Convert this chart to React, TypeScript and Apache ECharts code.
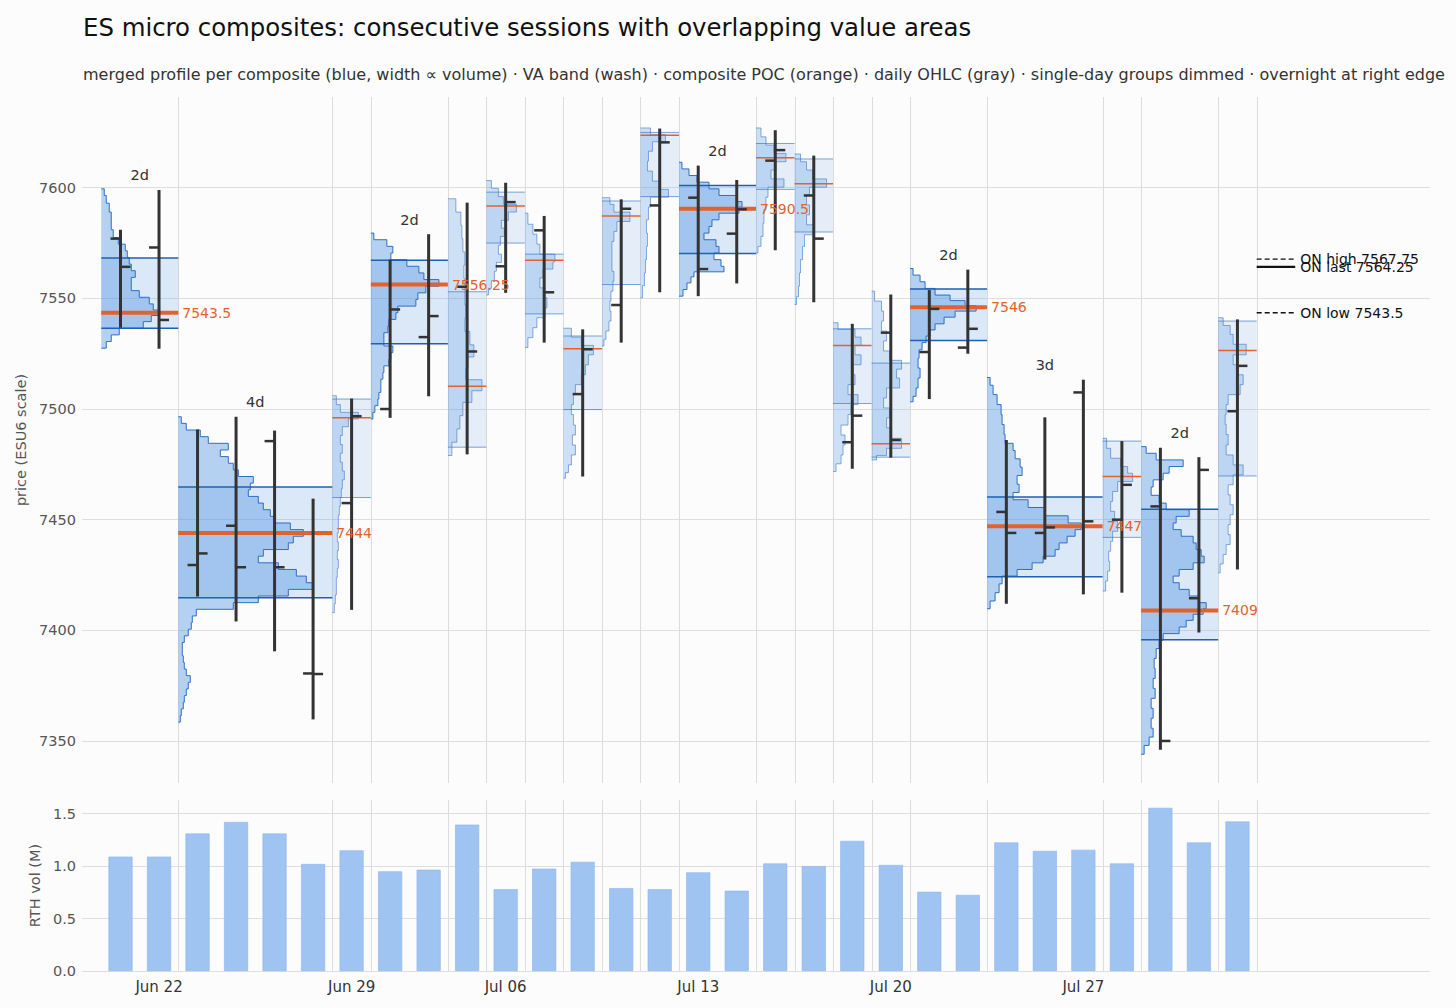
import { useEffect, useRef } from "react"
import * as echarts from "echarts"

const FONT = "DejaVu Sans"
const ORANGE = "#e2622e"

// trading sessions, index 0 = Jun 19
const tickDays = [1, 6, 10, 15, 20, 25]
const tickLabels = ["Jun 22", "Jun 29", "Jul 06", "Jul 13", "Jul 20", "Jul 27"]

const opens = [7577, 7573, 7429.5, 7447.25, 7485.5, 7380.5, 7457.5, 7500, 7532.5, 7555.25, 7564.5, 7580.75, 7506.75, 7547, 7592, 7595.5, 7579.25, 7612.25, 7596.5, 7485, 7534.5, 7525.75, 7527.75, 7453.5, 7444, 7507.5, 7450, 7456, 7414.5, 7499]
const highs = [7581, 7599, 7490.75, 7496.5, 7490.25, 7459.5, 7504.75, 7567.5, 7579, 7593.25, 7602.25, 7587.25, 7536, 7594.75, 7626.75, 7610, 7603.5, 7626, 7614.5, 7538.5, 7551.75, 7553.75, 7563, 7486, 7496.25, 7513.25, 7485.5, 7482.5, 7478.25, 7540.5]
const lows = [7536.75, 7527.25, 7415.25, 7404, 7390.5, 7359.75, 7409.25, 7496, 7505.75, 7479.5, 7552.5, 7530, 7469.5, 7530, 7552.75, 7551, 7556.75, 7571.75, 7548.25, 7473, 7478, 7504.5, 7525, 7412, 7432, 7416.25, 7417, 7346, 7399, 7427.5]
const closes = [7564.25, 7540.25, 7434.75, 7428.5, 7428.5, 7380.25, 7496.75, 7545, 7542, 7526, 7593.5, 7552.75, 7527, 7590.5, 7620.5, 7563.25, 7590.25, 7617, 7577, 7497, 7486, 7545.25, 7536.25, 7444, 7446.5, 7449.25, 7465.75, 7350, 7472.5, 7519.5]
const rthVolM = [1.09, 1.09, 1.31, 1.42, 1.31, 1.02, 1.15, 0.95, 0.965, 1.395, 0.78, 0.975, 1.04, 0.79, 0.78, 0.94, 0.765, 1.025, 1.0, 1.24, 1.01, 0.755, 0.725, 1.225, 1.145, 1.155, 1.025, 1.555, 1.225, 1.425]

// composites (first / last session index)
const groupStart = [0, 2, 6, 7, 9, 10, 11, 12, 13, 14, 15, 17, 18, 19, 20, 21, 23, 26, 27, 29]
const groupEnd = [1, 5, 6, 8, 9, 10, 11, 12, 13, 14, 16, 17, 18, 19, 20, 22, 25, 26, 28, 29]
const groupPoc = [7543.5, 7444, 7496, 7556.25, 7510.25, 7591.75, 7567.25, 7527.25, 7587.25, 7623.75, 7590.5, 7613.5, 7601.75, 7528.75, 7484.25, 7546, 7447, 7469.5, 7409, 7526.5]
const groupVah = [7568.25, 7464.75, 7504.5, 7567.25, 7553, 7598, 7570, 7533, 7594, 7625, 7601, 7620, 7613, 7536.25, 7520.75, 7554.25, 7460.25, 7485.5, 7454.75, 7539.75]
const groupVal = [7536.5, 7414.75, 7460, 7529.5, 7482.75, 7575, 7543, 7499.75, 7556.25, 7596, 7570.25, 7599.25, 7580, 7502.5, 7478.25, 7531, 7424.25, 7442, 7395.75, 7469.75]

// merged volume profiles, [price, volume] from top to bottom
const profA = [[7598, 3], [7595, 5], [7591, 8], [7587, 10], [7583, 10], [7579, 12], [7576, 17], [7573, 24], [7570, 26], [7567, 28], [7564, 30], [7561, 34], [7558, 30], [7555, 30], [7552, 38], [7549, 48], [7546, 52], [7543.5, 57], [7541, 50], [7538, 42], [7535, 18], [7532, 10], [7529, 5]]
const profB = [[7495, 3], [7492, 8], [7489, 22], [7486, 30], [7483, 50], [7480, 42], [7477, 50], [7474, 55], [7471, 60], [7468, 75], [7465, 72], [7462, 70], [7459, 80], [7456, 85], [7453, 92], [7450, 96], [7447, 112], [7444, 125], [7441, 115], [7438, 110], [7435, 85], [7432, 80], [7429, 100], [7426, 118], [7423, 128], [7420, 135], [7417, 110], [7414, 80], [7411, 55], [7408, 18], [7405, 14], [7402, 13], [7399, 10], [7396, 6], [7393, 4], [7390, 4], [7387, 5], [7384, 6], [7381, 8], [7378, 12], [7375, 10], [7372, 8], [7369, 6], [7366, 5], [7363, 3], [7360, 2]]
const profC = [[7504, 4], [7500, 8], [7497, 26], [7494, 16], [7490, 10], [7486, 8], [7482, 10], [7478, 8], [7474, 10], [7470, 12], [7466, 10], [7462, 9], [7458, 8], [7454, 7], [7450, 6], [7446, 6], [7442, 5], [7438, 6], [7434, 5], [7430, 6], [7426, 5], [7422, 4], [7418, 4], [7414, 3], [7410, 2]]
const profD = [[7578, 3], [7575, 16], [7572, 22], [7569, 20], [7566, 36], [7563, 48], [7560, 53], [7557, 68], [7554, 55], [7551, 47], [7548, 45], [7545, 27], [7542, 25], [7539, 18], [7536, 17], [7533, 13], [7530, 13], [7527, 22], [7524, 20], [7521, 18], [7518, 13], [7515, 12], [7512, 10], [7509, 10], [7506, 8], [7503, 7], [7500, 4], [7497, 2]]
const profE = [[7592, 8], [7586, 13], [7580, 14], [7574, 15], [7568, 17], [7562, 16], [7556, 17], [7550, 17], [7544, 18], [7538, 17], [7532, 22], [7526, 26], [7521, 20], [7516, 18], [7510.5, 34], [7506, 24], [7500, 15], [7494, 12], [7488, 9], [7482, 4]]
const profF = [[7601.5, 5], [7598, 12], [7594, 17], [7591, 30], [7587, 22], [7583.5, 15], [7580, 18], [7576, 14], [7572, 12], [7568, 15], [7564.5, 10], [7560, 8], [7556, 5], [7553, 2]]
const profG = [[7586, 3], [7581, 8], [7577, 12], [7572, 15], [7568, 30], [7565, 28], [7561.5, 18], [7557, 15], [7552.5, 20], [7548, 22], [7543.5, 20], [7539, 12], [7534.5, 8], [7530, 3]]
const profH = [[7534.5, 8], [7530.5, 18], [7527, 30], [7522, 25], [7518, 22], [7513, 18], [7509, 12], [7504, 10], [7500, 8], [7495, 10], [7490.5, 12], [7486, 9], [7481.5, 12], [7477, 8], [7472.5, 5], [7470, 2]]
const profI = [[7594, 8], [7591, 12], [7587, 28], [7582.5, 15], [7578, 12], [7573.5, 10], [7569, 10], [7564.5, 10], [7560, 12], [7555.5, 11], [7551, 9], [7546.5, 8], [7542, 9], [7537.5, 7], [7533, 4], [7530, 2]]
const profJ = [[7625.5, 10], [7622.5, 25], [7619, 12], [7614, 8], [7610, 7], [7605, 12], [7601, 20], [7597.5, 28], [7594, 10], [7588.5, 8], [7582.5, 6], [7576.5, 7], [7570.5, 6], [7564.5, 5], [7558.5, 4], [7553, 2]]
const profK = [[7610, 3], [7607, 10], [7604, 18], [7601, 30], [7598, 40], [7595, 58], [7592.5, 63], [7590, 60], [7587, 40], [7584, 33], [7581, 30], [7578, 25], [7575, 37], [7572, 40], [7569, 35], [7566, 42], [7563, 45], [7561, 15], [7558.5, 12], [7555.5, 8], [7552.5, 4]]
const profL = [[7625, 5], [7621, 10], [7617.5, 18], [7613.5, 30], [7610, 20], [7606, 15], [7602, 28], [7598.5, 12], [7593, 10], [7587, 8], [7581, 7], [7575, 5], [7572, 2]]
const profM = [[7613.5, 6], [7610, 12], [7606, 18], [7602, 32], [7598.5, 15], [7594.5, 12], [7590, 15], [7585.5, 12], [7581, 20], [7576.5, 10], [7570.5, 8], [7564.5, 6], [7558.5, 5], [7552.5, 4], [7549, 2]]
const profN = [[7537.5, 5], [7534.5, 22], [7530.5, 28], [7527, 22], [7522, 28], [7518, 20], [7513, 22], [7509, 15], [7504, 25], [7500, 18], [7495, 15], [7490.5, 8], [7486, 12], [7481.5, 10], [7477, 8], [7473.5, 3]]
const profO = [[7551, 3], [7546.5, 10], [7542, 12], [7537.5, 10], [7533, 15], [7528.5, 12], [7524, 18], [7520, 30], [7516, 25], [7512, 28], [7507, 15], [7503, 12], [7498, 18], [7494, 15], [7489, 20], [7484.5, 30], [7480, 15], [7478, 5]]
const profP = [[7562, 3], [7559, 10], [7556, 15], [7553, 25], [7550, 40], [7548, 55], [7545.5, 66], [7543, 45], [7540, 34], [7537, 25], [7534.5, 20], [7531.5, 16], [7528.5, 12], [7525, 9], [7521, 8], [7516, 10], [7512, 8], [7507, 6], [7504.5, 3]]
const profQ = [[7512.5, 3], [7509, 6], [7504, 10], [7500, 14], [7495, 15], [7491, 17], [7486, 18], [7483, 26], [7479.5, 28], [7475.5, 33], [7472, 35], [7468, 30], [7464, 32], [7460.5, 26], [7457.5, 41], [7453.5, 58], [7450, 81], [7447, 94], [7444, 88], [7441, 80], [7438, 72], [7435, 68], [7432, 56], [7429, 45], [7426, 30], [7423, 15], [7419, 12], [7415, 8], [7411.5, 3]]
const profR = [[7484.5, 4], [7480, 8], [7475.5, 18], [7472.5, 25], [7469.5, 30], [7465, 15], [7460.5, 10], [7456, 8], [7451.5, 12], [7447, 15], [7442.5, 10], [7438, 8], [7433.5, 6], [7429, 7], [7424.5, 5], [7420, 3]]
const profS = [[7481.5, 5], [7478.5, 15], [7475.5, 42], [7472.5, 28], [7469.5, 22], [7466.5, 12], [7463, 10], [7459, 18], [7456, 25], [7453, 48], [7450, 35], [7447, 32], [7444, 40], [7441, 52], [7438, 55], [7435, 60], [7432, 63], [7429, 52], [7426, 38], [7423, 32], [7420, 38], [7417, 48], [7414, 58], [7411, 65], [7408.5, 62], [7406, 52], [7403, 45], [7400, 38], [7397, 22], [7394, 18], [7389.5, 15], [7385, 13], [7380.5, 14], [7376, 12], [7371.5, 14], [7367, 10], [7362.5, 12], [7358, 10], [7353.5, 12], [7350, 8], [7346, 3]]
const profT = [[7539.5, 5], [7536, 12], [7531.5, 15], [7527, 28], [7522, 15], [7518, 20], [7513, 25], [7509, 22], [7504, 10], [7500, 8], [7495, 7], [7491, 8], [7486, 10], [7481.5, 8], [7477, 15], [7472.5, 25], [7468, 15], [7463.5, 10], [7459, 12], [7454.5, 15], [7450, 12], [7445.5, 10], [7441, 12], [7436.5, 8], [7432, 5], [7428, 2]]
const profiles = [profA, profB, profC, profD, profE, profF, profG, profH, profI, profJ, profK, profL, profM, profN, profO, profP, profQ, profR, profS, profT]

// overnight session
const onNames = ["ON high", "ON last", "ON low"]
const onLevels = [7567.75, 7564.25, 7543.5]

// profile volume units that fill one session's width
const VOL_PER_SESSION = 38.5

export default function App() {
  const chartRef = useRef<HTMLDivElement>(null)

  useEffect(() => {
    if (!chartRef.current) return
    const chart = echarts.init(chartRef.current, null, { renderer: "svg" })

    const isMulti = (i: number) => groupEnd[i] > groupStart[i]
    const groupData = groupStart.map((s, i) => [(s + groupEnd[i]) / 2, groupPoc[i], i])
    const multiData = groupData.filter((g) => isMulti(g[2]))
    const sepData = groupEnd.map((e) => [e + 0.5, 0])

    const sepRender = (params: any, api: any) => {
      const cs = params.coordSys
      const x = Math.round(api.coord([api.value(0), api.value(1)])[0]) + 0.5
      return {
        type: "line",
        shape: { x1: x, y1: cs.y, x2: x, y2: cs.y + cs.height },
        style: { stroke: "#dcdcdc", lineWidth: 1 },
      }
    }

    const washRender = (params: any, api: any) => {
      const i = api.value(2)
      const a = api.coord([groupStart[i] - 0.5, groupVah[i]])
      const b = api.coord([groupEnd[i] + 0.5, groupVal[i]])
      return {
        type: "rect",
        shape: { x: a[0], y: a[1], width: b[0] - a[0], height: b[1] - a[1] },
        style: { fill: isMulti(i) ? "rgba(74,144,226,0.18)" : "rgba(74,144,226,0.13)" },
      }
    }

    const profileRender = (params: any, api: any) => {
      const i = api.value(2)
      const rows = profiles[i]
      const n = rows.length
      const x0 = groupStart[i] - 0.5
      const edges: number[] = [rows[0][0] + (rows[0][0] - rows[1][0]) / 2]
      for (let k = 1; k < n; k++) edges.push((rows[k - 1][0] + rows[k][0]) / 2)
      edges.push(rows[n - 1][0] - (rows[n - 2][0] - rows[n - 1][0]) / 2)
      const pts: number[][] = [api.coord([x0, edges[0]])]
      rows.forEach((r, k) => {
        const x = x0 + r[1] / VOL_PER_SESSION
        pts.push(api.coord([x, edges[k]]))
        pts.push(api.coord([x, edges[k + 1]]))
      })
      pts.push(api.coord([x0, edges[n]]))
      const multi = isMulti(i)
      return {
        type: "group",
        children: [
          { type: "polygon", shape: { points: pts }, style: { fill: multi ? "rgba(74,144,226,0.4)" : "rgba(74,144,226,0.26)" } },
          { type: "polyline", shape: { points: pts }, style: { stroke: multi ? "#2f6fc4" : "rgba(47,111,196,0.7)", lineWidth: multi ? 1 : 0.8, fill: null } },
        ],
      }
    }

    const levelRender = (params: any, api: any) => {
      const i = api.value(2)
      const multi = isMulti(i)
      const seg = (y: number, stroke: string, lw: number) => {
        const a = api.coord([groupStart[i] - 0.5, y])
        const b = api.coord([groupEnd[i] + 0.5, y])
        return { type: "line", shape: { x1: a[0], y1: a[1], x2: b[0], y2: b[1] }, style: { stroke, lineWidth: lw } }
      }
      const va = multi ? "#1f5fb4" : "rgba(47,111,196,0.7)"
      return {
        type: "group",
        children: [
          seg(groupVah[i], va, multi ? 1.5 : 0.9),
          seg(groupVal[i], va, multi ? 1.5 : 0.9),
          seg(groupPoc[i], ORANGE, multi ? 4 : 1.5),
        ],
      }
    }

    const ohlcRender = (params: any, api: any) => {
      const d = api.value(0)
      const hi = api.coord([d, highs[d]])
      const lo = api.coord([d, lows[d]])
      const op = api.coord([d, opens[d]])
      const cl = api.coord([d, closes[d]])
      const st = { stroke: "#333333", lineWidth: 2.5 }
      return {
        type: "group",
        children: [
          { type: "line", shape: { x1: hi[0], y1: hi[1], x2: lo[0], y2: lo[1] }, style: { stroke: "#333333", lineWidth: 3 } },
          { type: "line", shape: { x1: op[0] - 10, y1: op[1], x2: op[0], y2: op[1] }, style: st },
          { type: "line", shape: { x1: cl[0], y1: cl[1], x2: cl[0] + 10, y2: cl[1] }, style: st },
        ],
      }
    }

    const labelRender = (params: any, api: any) => {
      const i = api.value(2)
      let hi = -Infinity
      for (let d = groupStart[i]; d <= groupEnd[i]; d++) hi = Math.max(hi, highs[d])
      const top = api.coord([(groupStart[i] + groupEnd[i]) / 2, hi])
      const poc = api.coord([groupEnd[i] + 0.5, groupPoc[i]])
      return {
        type: "group",
        children: [
          {
            type: "text", x: top[0], y: top[1] - 7,
            style: { text: `${groupEnd[i] - groupStart[i] + 1}d`, fill: "#333333", fontSize: 14.5, fontFamily: FONT, align: "center", verticalAlign: "bottom" },
          },
          {
            type: "text", x: poc[0] + 4, y: poc[1],
            style: { text: String(groupPoc[i]), fill: ORANGE, fontSize: 14, fontFamily: FONT, align: "left", verticalAlign: "middle" },
          },
        ],
      }
    }

    const onRender = (params: any, api: any) => {
      const k = api.value(2)
      const a = api.coord([api.value(0), onLevels[k]])
      const b = api.coord([api.value(0) + 1, onLevels[k]])
      const solid = onNames[k] === "ON last"
      return {
        type: "group",
        children: [
          { type: "line", shape: { x1: a[0], y1: a[1], x2: b[0], y2: b[1] }, style: { stroke: "#111111", lineWidth: solid ? 2.2 : 1.3, lineDash: solid ? null : [5, 3] } },
          {
            type: "text", x: b[0] + 5, y: b[1],
            style: { text: `${onNames[k]} ${onLevels[k]}`, fill: "#111111", fontSize: 14, fontFamily: FONT, align: "left", verticalAlign: "middle" },
          },
        ],
      }
    }

    const lastEdge = groupEnd[groupEnd.length - 1] + 0.5

    const option = {
      animation: false,
      backgroundColor: "#fcfcfc",
      textStyle: { fontFamily: FONT },
      title: [
        {
          text: "ES micro composites: consecutive sessions with overlapping value areas",
          left: 83, top: 15, padding: 0,
          textStyle: { fontSize: 24.4, fontWeight: "normal", color: "#111111", fontFamily: FONT },
        },
        {
          text: "merged profile per composite (blue, width \u221d volume) \u00b7 VA band (wash) \u00b7 composite POC (orange) \u00b7 daily OHLC (gray) \u00b7 single-day groups dimmed \u00b7 overnight at right edge",
          left: 83, top: 66, padding: 0,
          textStyle: { fontSize: 16, fontWeight: "normal", color: "#333333", fontFamily: FONT },
        },
      ],
      grid: [
        { left: 82, right: 26, top: 97, height: 686 },
        { left: 82, right: 26, top: 800, height: 171 },
      ],
      xAxis: [
        { type: "value", gridIndex: 0, min: -1, max: 34, show: false },
        {
          type: "value", gridIndex: 1, min: -1, max: 34, interval: 1,
          axisLine: { show: false }, axisTick: { show: false }, splitLine: { show: false },
          axisLabel: {
            color: "#333333", fontSize: 15, fontFamily: FONT, margin: 8,
            formatter: (v: number) => {
              const k = tickDays.indexOf(Math.round(v))
              return k >= 0 && Math.abs(v - Math.round(v)) < 1e-6 ? tickLabels[k] : ""
            },
          },
        },
      ],
      yAxis: [
        {
          type: "value", gridIndex: 0, min: 7331, max: 7641,
          name: "price (ESU6 scale)", nameLocation: "middle", nameGap: 51,
          nameTextStyle: { color: "#555555", fontSize: 14.5, fontFamily: FONT },
          axisLine: { show: false }, axisTick: { show: false },
          axisLabel: { color: "#555555", fontSize: 14.5, fontFamily: FONT, margin: 6, showMinLabel: false, showMaxLabel: false, formatter: (v: number) => String(v) },
          splitLine: { show: true, showMinLine: false, showMaxLine: false, lineStyle: { color: "#dedede", width: 1 } },
        },
        {
          type: "value", gridIndex: 1, min: 0, max: 1.63, interval: 0.5,
          name: "RTH vol (M)", nameLocation: "middle", nameGap: 40,
          nameTextStyle: { color: "#555555", fontSize: 14.5, fontFamily: FONT },
          axisLine: { show: false }, axisTick: { show: false },
          axisLabel: { color: "#555555", fontSize: 14.5, fontFamily: FONT, margin: 6, showMaxLabel: false, formatter: (v: number) => v.toFixed(1) },
          splitLine: { show: true, showMaxLine: false, lineStyle: { color: "#dedede", width: 1 } },
        },
      ],
      series: [
        { type: "custom", xAxisIndex: 0, yAxisIndex: 0, z: 1, data: sepData, renderItem: sepRender, silent: true },
        { type: "custom", xAxisIndex: 1, yAxisIndex: 1, z: 1, data: sepData, renderItem: sepRender, silent: true },
        { type: "custom", xAxisIndex: 0, yAxisIndex: 0, z: 2, data: groupData, renderItem: washRender, silent: true },
        { type: "custom", xAxisIndex: 0, yAxisIndex: 0, z: 3, data: groupData, renderItem: profileRender, silent: true },
        { type: "custom", xAxisIndex: 0, yAxisIndex: 0, z: 4, data: groupData, renderItem: levelRender, silent: true },
        { type: "custom", xAxisIndex: 0, yAxisIndex: 0, z: 5, data: opens.map((o, d) => [d, closes[d]]), renderItem: ohlcRender, silent: true },
        { type: "custom", xAxisIndex: 0, yAxisIndex: 0, z: 6, data: multiData, renderItem: labelRender, silent: true },
        { type: "custom", xAxisIndex: 0, yAxisIndex: 0, z: 6, data: onLevels.map((v, k) => [lastEdge, v, k]), renderItem: onRender, silent: true },
        {
          type: "bar", xAxisIndex: 1, yAxisIndex: 1, z: 3, barWidth: 24,
          data: rthVolM.map((v, d) => [d, v]),
          itemStyle: { color: "#a0c4f2", borderColor: "#8ab4ec", borderWidth: 0.6 },
        },
      ],
    }

    chart.setOption(option as any)
    return () => {
      chart.dispose()
    }
  }, [])

  return (
    <div
      ref={chartRef}
      style={{ position: "fixed", left: 0, top: 0, width: 1456, height: 1008 }}
    />
  )
}
